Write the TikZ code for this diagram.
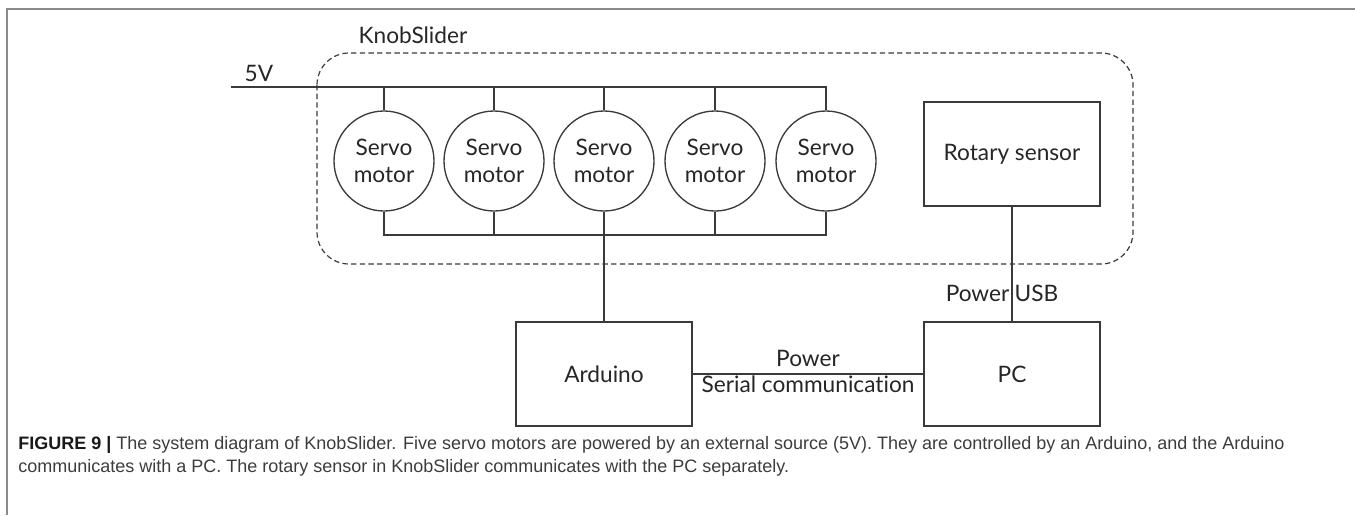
\documentclass[tikz,border=0pt]{standalone}
\usepackage{fontspec}
\usepackage{xcolor}
\setmainfont{Lato}[Ligatures=NoCommon]
\newfontfamily\capfont{Liberation Sans}
\usetikzlibrary{positioning}
\definecolor{linegray}{HTML}{3A3A3A}
\definecolor{framegray}{HTML}{8A8A8A}
\definecolor{capgray}{HTML}{3C3C3C}
\tikzset{
  servo/.style={draw=linegray, line width=1pt, circle, minimum size=75pt, inner sep=0pt, align=center, font=\fontsize{17}{20}\selectfont, text=black!85},
  unit/.style={draw=linegray, line width=1pt, rectangle, minimum width=132pt, minimum height=78pt, font=\fontsize{17}{20}\selectfont, text=black!85},
  wire/.style={draw=linegray, line width=1pt},
  lbl/.style={font=\fontsize{17}{20}\selectfont, text=black!85, inner sep=1pt}
}
\begin{document}
\begin{tikzpicture}[x=0.75pt, y=-0.75pt]
				\useasboundingbox (0,0) rectangle (1355,515);
				% frame of the figure
				\draw[framegray, line width=0.9pt] (7,515) -- (7,9) -- (1355,9);
				% KnobSlider enclosure
				\draw[linegray, line width=0.9pt, dashed, dash pattern=on 4pt off 2.5pt, rounded corners=24pt] (317,53) rectangle (1133,264);
				\node[lbl, anchor=west] (knob) at (357,35) {KnobSlider};
				% servo motors
				\node[servo] (s1) at (384,161) {Servo\\motor};
				\node[servo] (s2) at (494,161) {Servo\\motor};
				\node[servo] (s3) at (604,161) {Servo\\motor};
				\node[servo] (s4) at (715,161) {Servo\\motor};
				\node[servo] (s5) at (826,161) {Servo\\motor};
				% other units
				\node[unit] (rot) at (1012,154) {Rotary sensor};
				\node[unit] (ard) at (604,374) {Arduino};
				\node[unit] (pc) at (1012,374) {PC};
				% 5V supply rail
				\coordinate (v5) at (231,87);
				\coordinate (bus) at (384,235);
				\node[lbl, anchor=south west] (v5lbl) at (243,83) {5V};
				\draw[wire] (v5) -- (s5 |- v5) -- (s5.north);
				\draw[wire] (s1 |- v5) -- (s1.north);
				\draw[wire] (s2 |- v5) -- (s2.north);
				\draw[wire] (s3 |- v5) -- (s3.north);
				\draw[wire] (s4 |- v5) -- (s4.north);
				% control bus
				\draw[wire] (s1.south) -- (bus) -- (s5 |- bus) -- (s5.south);
				\draw[wire] (s2.south) -- (s2 |- bus);
				\draw[wire] (s4.south) -- (s4 |- bus);
				\draw[wire] (s3.south) -- (ard.north);
				% links to the PC
				\draw[wire] (rot.south) -- (pc.north)
					node[lbl, pos=0.76, anchor=east, inner sep=1.5pt] {Power}
					node[lbl, pos=0.76, anchor=west, inner sep=1.5pt] {USB};
				\draw[wire] (ard.east) -- (pc.west)
					node[lbl, midway, anchor=south, inner sep=5pt] {Power}
					node[lbl, midway, anchor=north, inner sep=1pt] {Serial communication};
				% caption
				\node[anchor=west, inner sep=0pt, align=left, font=\capfont\fontsize{13.5}{17.3}\selectfont, text=capgray] (cap) at (18,456)
					{{\bfseries\color{black!90}FIGURE 9 |} The system diagram of KnobSlider. Five servo motors are powered by an external source (5V). They are controlled by an Arduino, and the Arduino\\communicates with a PC. The rotary sensor in KnobSlider communicates with the PC separately.};
\end{tikzpicture}
\end{document}
